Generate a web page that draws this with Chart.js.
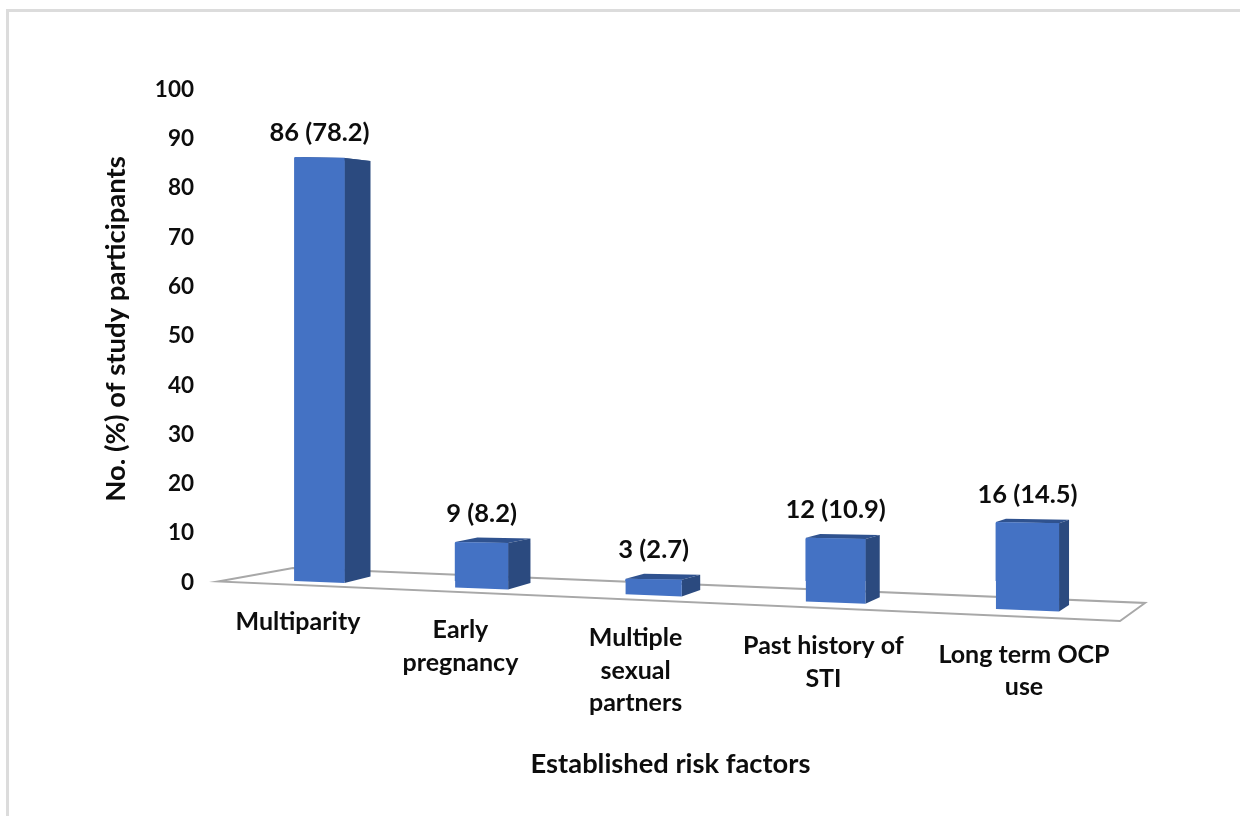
<!DOCTYPE html>
<html>
<head>
<meta charset="utf-8">
<style>
html,body{margin:0;padding:0;background:#fff;width:1240px;height:816px;overflow:hidden}
#frame{position:absolute;left:6px;top:9px;right:-10px;bottom:-10px;border-left:3px solid #dcdcdc;border-top:3px solid #dcdcdc}
canvas{position:absolute;left:0;top:0;filter:blur(0.45px)}
</style>
<script src="https://cdn.jsdelivr.net/npm/chart.js@4"></script>
</head>
<body>
<div id="frame"></div>
<canvas id="c" width="1240" height="816"></canvas>
<script>
const categories = ['Multiparity', ['Early','pregnancy'], ['Multiple','sexual','partners'], ['Past history of','STI'], ['Long term OCP','use']];
const counts = [86, 9, 3, 12, 16];
const percents = ['78.2', '8.2', '2.7', '10.9', '14.5'];
const xTitle = 'Established risk factors';
const yTitle = 'No. (%) of study participants';
const FONT = 'Lato';
const FRONT = '#4472C4', SIDE = '#2B4A7F', TOP = '#2F528F', FLOOR = '#a8a8a8', TEXT = '#0d0d0d';

// Perspective of the tilted floor: 3D look applied on top of the library's scales.
const warp = (t, a) => a * t + (1 - a) * t * t;
const geo = [];
const perspective = {
  id: 'perspective',
  afterDatasetsUpdate(chart) {
    const xs = chart.scales.x, ys = chart.scales.y;
    const c0 = xs.getPixelForValue(0), c4 = xs.getPixelForValue(4);
    const y0 = ys.getPixelForValue(0);
    chart.getDatasetMeta(0).data.forEach((el, i) => {
      const t = (xs.getPixelForValue(i) - c0) / (c4 - c0);
      const sx = c0 + (c4 - c0) * warp(t, 0.888);
      const w = el.width * (1 + 0.00037 * (sx - c0));
      const fl = sx - w / 2, fr = sx + w / 2;
      const run = fl - (c0 - el.width / 2);
      const h = (y0 - ys.getPixelForValue(counts[i])) * (1 + 0.00015 * run);
      const bl = y0 + 0.04 * run, br = bl + 0.04 * w;
      const tl = bl - h, tr = tl + 0.02 * w;
      const dx = 26 - 0.0224 * (fr - (c0 + el.width / 2));
      const bbr = br - 6.5, btr = bbr - 0.98 * h;
      geo[i] = { sx, w, fl, fr, bl, br, tl, tr, dx, bbr, btr };
      el.x = sx; el.width = w; el.y = Math.max(tl, tr); el.base = Math.min(bl, br); el.height = el.base - el.y;
    });
  },
  beforeDraw(chart) {
    const xs = chart.scales.x, ys = chart.scales.y;
    // category labels follow the floor's slope
    const items = xs.getLabelItems();
    const lh = 32.5, n = items.length - 1;
    items.forEach((it, i) => {
      const t = i / n;
      it.options.translation[0] = xs.getPixelForValue(0) - 21.5 + 726 * warp(t, 0.86);
      it.options.translation[1] = ys.getPixelForValue(0) + 41 + 32.5 * t - lh / 2;
    });
    ys.getLabelItems().forEach((it) => {
      if (it._nudged) return;
      it._nudged = true;
      it.options.translation[1] += 1.5;
    });
    // axis titles
    [[xs, -3, 0], [ys, 0, -5.5]].forEach(([s, dx, dy]) => {
      if (s._shifted) return;
      s._shifted = true;
      const orig = s.drawTitle;
      s.drawTitle = function () { const c = this.ctx; c.save(); c.translate(dx, dy); orig.call(this); c.restore(); };
    });
  },
  beforeDatasetsDraw(chart) {
    const { ctx } = chart, xs = chart.scales.x, ys = chart.scales.y;
    const y0 = ys.getPixelForValue(0);
    ctx.save();
    ctx.lineWidth = 2; ctx.strokeStyle = FLOOR; ctx.lineJoin = 'miter';
    ctx.beginPath();
    ctx.moveTo(xs.left - 13, y0 + 0.5);
    ctx.lineTo(xs.left + 62, y0 - 13);
    ctx.lineTo(xs.right + 29, y0 + 22);
    ctx.lineTo(xs.right + 4, y0 + 40);
    ctx.closePath();
    ctx.stroke();
    ctx.restore();
  },
  afterDatasetsDraw(chart) {
    const { ctx } = chart;
    const poly = (color, pts) => {
      ctx.fillStyle = color; ctx.beginPath();
      pts.forEach((p, k) => k ? ctx.lineTo(p[0], p[1]) : ctx.moveTo(p[0], p[1]));
      ctx.closePath(); ctx.fill();
    };
    ctx.save();
    geo.forEach((g, i) => {
      poly(TOP, [[g.fl, g.tl], [g.fr, g.tr], [g.fr + g.dx, g.btr], [g.fl + g.dx, g.btr - 1]]);
      poly(SIDE, [[g.fr, g.tr], [g.fr + g.dx, g.btr], [g.fr + g.dx, g.bbr], [g.fr, g.br]]);
      poly(FRONT, [[g.fl, g.tl], [g.fr, g.tr], [g.fr, g.br], [g.fl, g.bl]]);
      ctx.fillStyle = TEXT;
      ctx.font = 'bold 25.5px ' + FONT;
      ctx.textAlign = 'center'; ctx.textBaseline = 'middle';
      ctx.fillText(counts[i] + ' (' + percents[i] + ')', g.sx, Math.min(g.tl, g.btr - 1) - 24);
    });
    ctx.restore();
  }
};

new Chart(document.getElementById('c'), {
  type: 'bar',
  data: { labels: categories, datasets: [{ data: counts, backgroundColor: FRONT, barThickness: 50 }] },
  plugins: [perspective],
  options: {
    responsive: false, animation: false, devicePixelRatio: 1,
    layout: { padding: { top: 88, left: 0, right: 124, bottom: 0 } },
    plugins: { legend: { display: false }, tooltip: { enabled: false } },
    scales: {
      x: {
        grid: { display: false }, border: { display: false },
        afterFit(s) { s.height = 235; },
        ticks: { color: TEXT, maxRotation: 0, autoSkip: false, padding: 0, font: { family: FONT, weight: 'bold', size: 25, lineHeight: 32.5 / 25 } },
        title: { display: true, text: xTitle, color: TEXT, padding: { top: 0, bottom: 35 }, font: { family: FONT, weight: 'bold', size: 27.3 } }
      },
      y: {
        min: 0, max: 100,
        grid: { display: false, drawTicks: false }, border: { display: false },
        afterFit(s) { s.width = 231; },
        ticks: { stepSize: 10, color: TEXT, padding: 37, font: { family: FONT, weight: 'bold', size: 22.5 } },
        title: { display: true, text: yTitle, color: TEXT, padding: { top: 100, bottom: 0 }, font: { family: FONT, weight: 'bold', size: 27.5 } }
      }
    }
  }
});
</script>
</body>
</html>
